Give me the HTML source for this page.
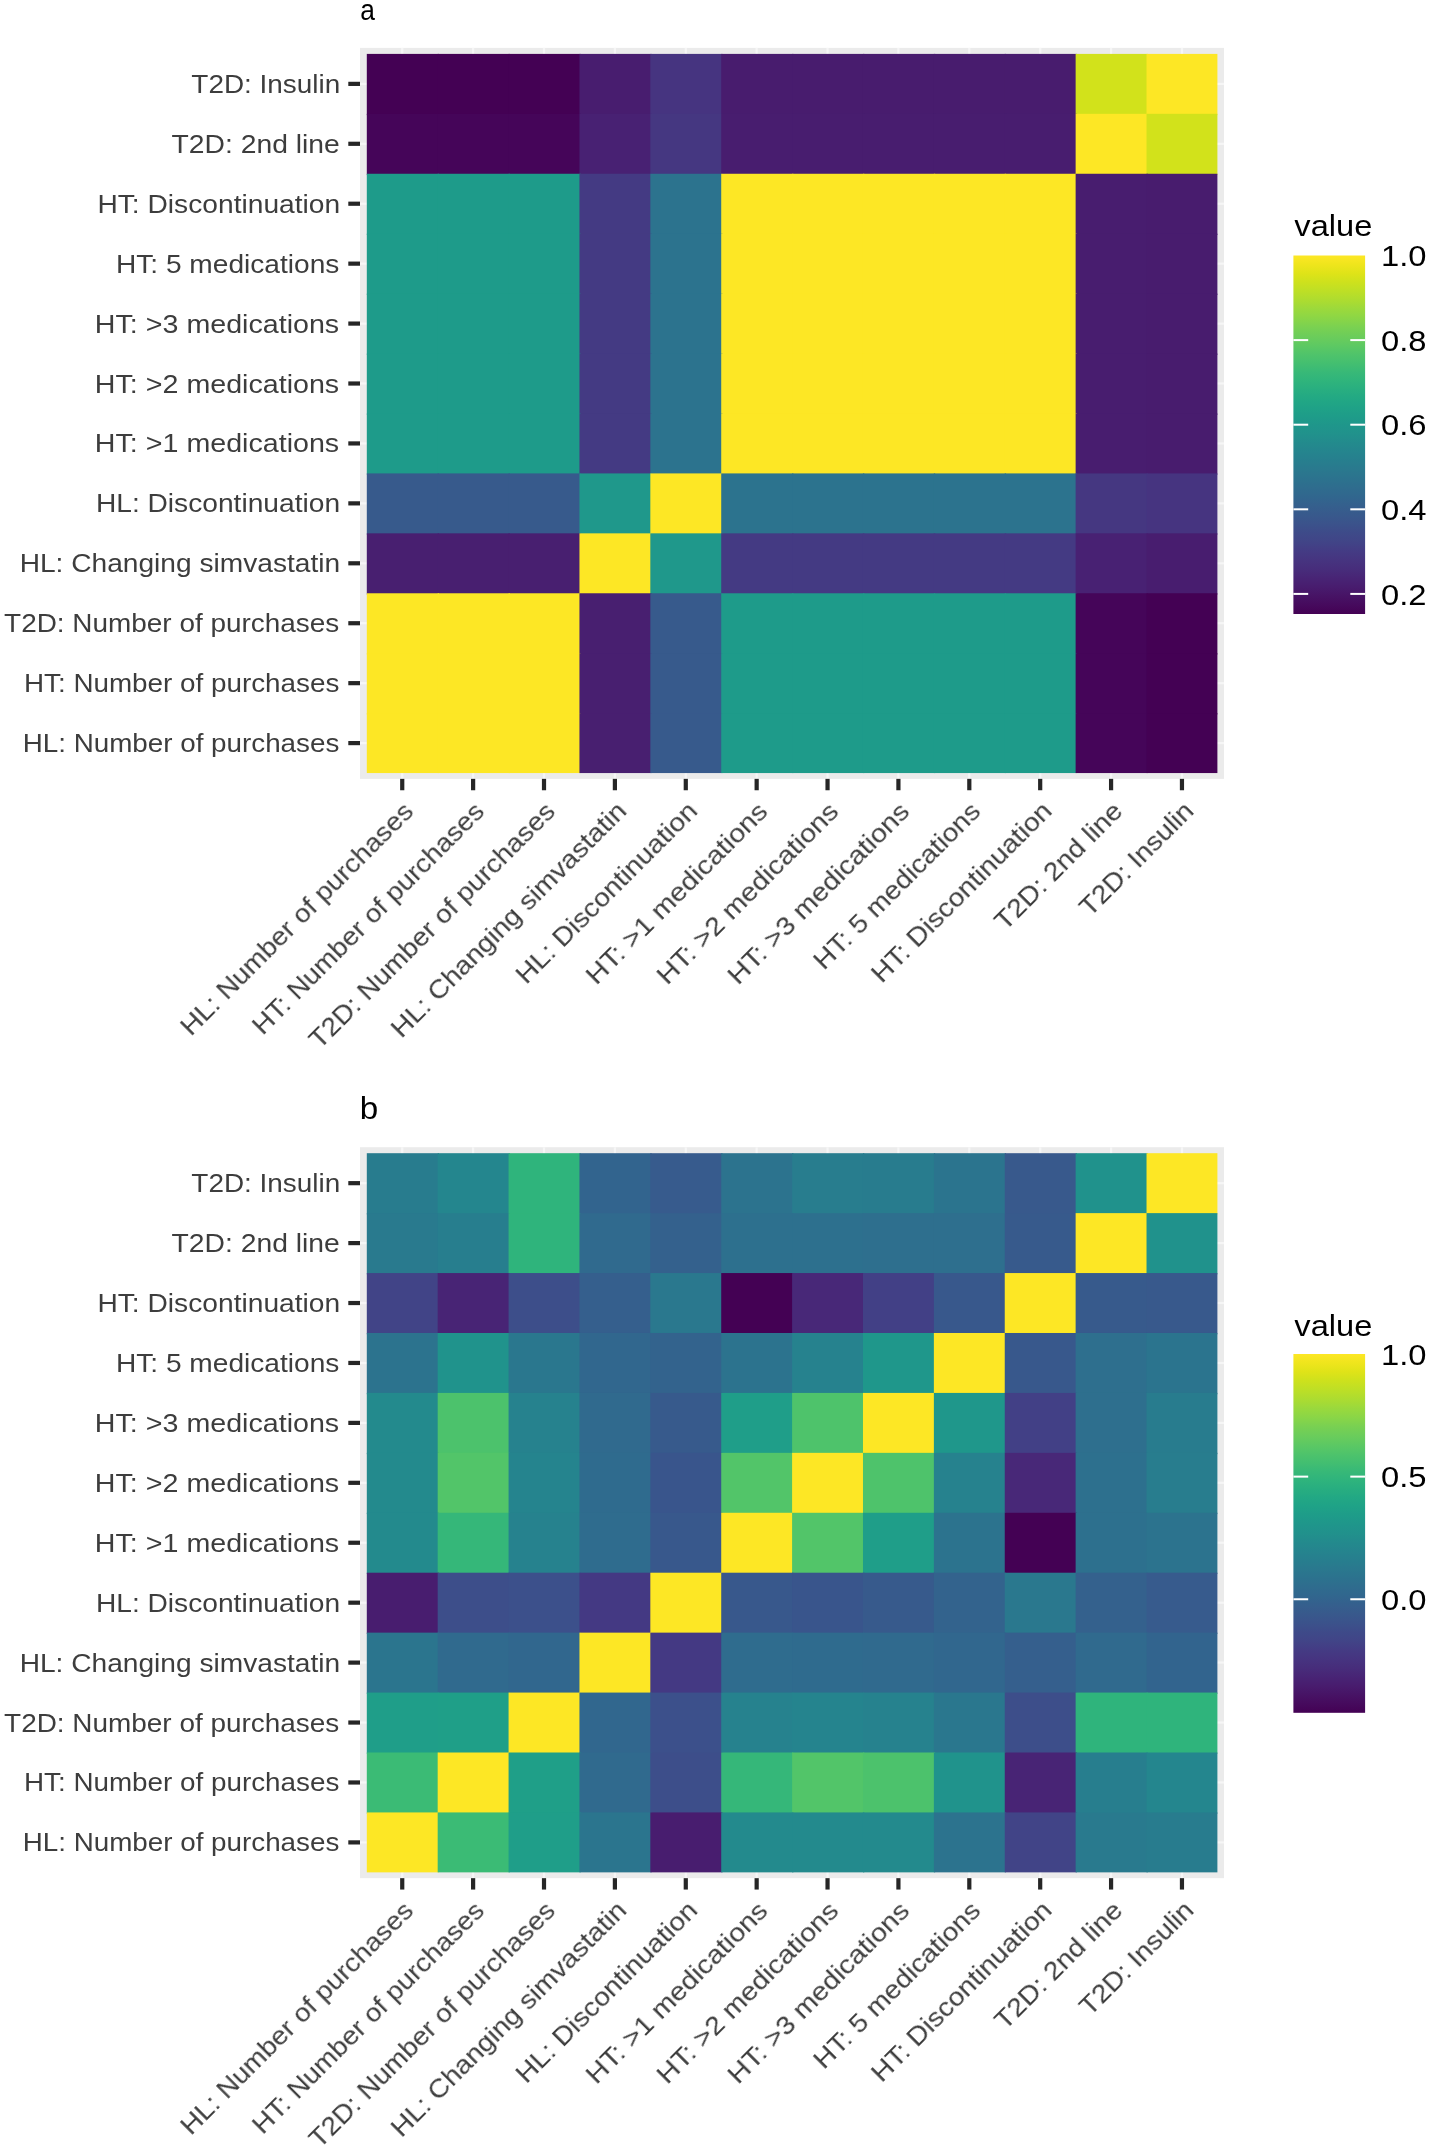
<!DOCTYPE html>
<html><head><meta charset="utf-8"><title>heatmaps</title><style>html,body{margin:0;padding:0;background:#fff;}svg text{font-family:"Liberation Sans",sans-serif;}text{will-change:transform;}</style></head><body>
<svg width="1433" height="2145" viewBox="0 0 1433 2145" style="display:block" font-family="Liberation Sans, sans-serif">
<rect x="0" y="0" width="1433" height="2145" fill="#ffffff"/>
<rect x="360.0" y="47.90" width="864.0" height="730.96" fill="#ebebeb"/>
<rect x="401.14" y="47.90" width="2.2" height="730.96" fill="#f6f6f6"/>
<rect x="360.0" y="82.77" width="864.0" height="2.2" fill="#f6f6f6"/>
<rect x="472.02" y="47.90" width="2.2" height="730.96" fill="#f6f6f6"/>
<rect x="360.0" y="142.69" width="864.0" height="2.2" fill="#f6f6f6"/>
<rect x="542.91" y="47.90" width="2.2" height="730.96" fill="#f6f6f6"/>
<rect x="360.0" y="202.62" width="864.0" height="2.2" fill="#f6f6f6"/>
<rect x="613.79" y="47.90" width="2.2" height="730.96" fill="#f6f6f6"/>
<rect x="360.0" y="262.55" width="864.0" height="2.2" fill="#f6f6f6"/>
<rect x="684.68" y="47.90" width="2.2" height="730.96" fill="#f6f6f6"/>
<rect x="360.0" y="322.48" width="864.0" height="2.2" fill="#f6f6f6"/>
<rect x="755.56" y="47.90" width="2.2" height="730.96" fill="#f6f6f6"/>
<rect x="360.0" y="382.41" width="864.0" height="2.2" fill="#f6f6f6"/>
<rect x="826.44" y="47.90" width="2.2" height="730.96" fill="#f6f6f6"/>
<rect x="360.0" y="442.34" width="864.0" height="2.2" fill="#f6f6f6"/>
<rect x="897.32" y="47.90" width="2.2" height="730.96" fill="#f6f6f6"/>
<rect x="360.0" y="502.27" width="864.0" height="2.2" fill="#f6f6f6"/>
<rect x="968.21" y="47.90" width="2.2" height="730.96" fill="#f6f6f6"/>
<rect x="360.0" y="562.20" width="864.0" height="2.2" fill="#f6f6f6"/>
<rect x="1039.09" y="47.90" width="2.2" height="730.96" fill="#f6f6f6"/>
<rect x="360.0" y="622.13" width="864.0" height="2.2" fill="#f6f6f6"/>
<rect x="1109.98" y="47.90" width="2.2" height="730.96" fill="#f6f6f6"/>
<rect x="360.0" y="682.06" width="864.0" height="2.2" fill="#f6f6f6"/>
<rect x="1180.86" y="47.90" width="2.2" height="730.96" fill="#f6f6f6"/>
<rect x="360.0" y="742.00" width="864.0" height="2.2" fill="#f6f6f6"/>
<rect x="366.80" y="53.90" width="72.18" height="61.23" fill="#440154"/>
<rect x="437.68" y="53.90" width="72.18" height="61.23" fill="#440154"/>
<rect x="508.57" y="53.90" width="72.18" height="61.23" fill="#440154"/>
<rect x="579.45" y="53.90" width="72.18" height="61.23" fill="#481d6f"/>
<rect x="650.33" y="53.90" width="72.18" height="61.23" fill="#463480"/>
<rect x="721.22" y="53.90" width="72.18" height="61.23" fill="#481c6e"/>
<rect x="792.10" y="53.90" width="72.18" height="61.23" fill="#481c6e"/>
<rect x="862.98" y="53.90" width="72.18" height="61.23" fill="#481c6e"/>
<rect x="933.87" y="53.90" width="72.18" height="61.23" fill="#481c6e"/>
<rect x="1004.75" y="53.90" width="72.18" height="61.23" fill="#481c6e"/>
<rect x="1075.63" y="53.90" width="72.18" height="61.23" fill="#d2e21b"/>
<rect x="1146.52" y="53.90" width="70.88" height="61.23" fill="#fde725"/>
<rect x="366.80" y="113.83" width="72.18" height="61.23" fill="#450559"/>
<rect x="437.68" y="113.83" width="72.18" height="61.23" fill="#450559"/>
<rect x="508.57" y="113.83" width="72.18" height="61.23" fill="#450559"/>
<rect x="579.45" y="113.83" width="72.18" height="61.23" fill="#482173"/>
<rect x="650.33" y="113.83" width="72.18" height="61.23" fill="#453781"/>
<rect x="721.22" y="113.83" width="72.18" height="61.23" fill="#481d6f"/>
<rect x="792.10" y="113.83" width="72.18" height="61.23" fill="#481d6f"/>
<rect x="862.98" y="113.83" width="72.18" height="61.23" fill="#481d6f"/>
<rect x="933.87" y="113.83" width="72.18" height="61.23" fill="#481d6f"/>
<rect x="1004.75" y="113.83" width="72.18" height="61.23" fill="#481d6f"/>
<rect x="1075.63" y="113.83" width="72.18" height="61.23" fill="#fde725"/>
<rect x="1146.52" y="113.83" width="70.88" height="61.23" fill="#d2e21b"/>
<rect x="366.80" y="173.76" width="72.18" height="61.23" fill="#1e9b8a"/>
<rect x="437.68" y="173.76" width="72.18" height="61.23" fill="#1e9b8a"/>
<rect x="508.57" y="173.76" width="72.18" height="61.23" fill="#1e9b8a"/>
<rect x="579.45" y="173.76" width="72.18" height="61.23" fill="#443a83"/>
<rect x="650.33" y="173.76" width="72.18" height="61.23" fill="#2c738e"/>
<rect x="721.22" y="173.76" width="72.18" height="61.23" fill="#fde725"/>
<rect x="792.10" y="173.76" width="72.18" height="61.23" fill="#fde725"/>
<rect x="862.98" y="173.76" width="72.18" height="61.23" fill="#fde725"/>
<rect x="933.87" y="173.76" width="72.18" height="61.23" fill="#fde725"/>
<rect x="1004.75" y="173.76" width="72.18" height="61.23" fill="#fde725"/>
<rect x="1075.63" y="173.76" width="72.18" height="61.23" fill="#481d6f"/>
<rect x="1146.52" y="173.76" width="70.88" height="61.23" fill="#481c6e"/>
<rect x="366.80" y="233.69" width="72.18" height="61.23" fill="#1e9b8a"/>
<rect x="437.68" y="233.69" width="72.18" height="61.23" fill="#1e9b8a"/>
<rect x="508.57" y="233.69" width="72.18" height="61.23" fill="#1e9b8a"/>
<rect x="579.45" y="233.69" width="72.18" height="61.23" fill="#443a83"/>
<rect x="650.33" y="233.69" width="72.18" height="61.23" fill="#2c738e"/>
<rect x="721.22" y="233.69" width="72.18" height="61.23" fill="#fde725"/>
<rect x="792.10" y="233.69" width="72.18" height="61.23" fill="#fde725"/>
<rect x="862.98" y="233.69" width="72.18" height="61.23" fill="#fde725"/>
<rect x="933.87" y="233.69" width="72.18" height="61.23" fill="#fde725"/>
<rect x="1004.75" y="233.69" width="72.18" height="61.23" fill="#fde725"/>
<rect x="1075.63" y="233.69" width="72.18" height="61.23" fill="#481d6f"/>
<rect x="1146.52" y="233.69" width="70.88" height="61.23" fill="#481c6e"/>
<rect x="366.80" y="293.62" width="72.18" height="61.23" fill="#1e9b8a"/>
<rect x="437.68" y="293.62" width="72.18" height="61.23" fill="#1e9b8a"/>
<rect x="508.57" y="293.62" width="72.18" height="61.23" fill="#1e9b8a"/>
<rect x="579.45" y="293.62" width="72.18" height="61.23" fill="#443a83"/>
<rect x="650.33" y="293.62" width="72.18" height="61.23" fill="#2c738e"/>
<rect x="721.22" y="293.62" width="72.18" height="61.23" fill="#fde725"/>
<rect x="792.10" y="293.62" width="72.18" height="61.23" fill="#fde725"/>
<rect x="862.98" y="293.62" width="72.18" height="61.23" fill="#fde725"/>
<rect x="933.87" y="293.62" width="72.18" height="61.23" fill="#fde725"/>
<rect x="1004.75" y="293.62" width="72.18" height="61.23" fill="#fde725"/>
<rect x="1075.63" y="293.62" width="72.18" height="61.23" fill="#481d6f"/>
<rect x="1146.52" y="293.62" width="70.88" height="61.23" fill="#481c6e"/>
<rect x="366.80" y="353.55" width="72.18" height="61.23" fill="#1e9b8a"/>
<rect x="437.68" y="353.55" width="72.18" height="61.23" fill="#1e9b8a"/>
<rect x="508.57" y="353.55" width="72.18" height="61.23" fill="#1e9b8a"/>
<rect x="579.45" y="353.55" width="72.18" height="61.23" fill="#443a83"/>
<rect x="650.33" y="353.55" width="72.18" height="61.23" fill="#2c738e"/>
<rect x="721.22" y="353.55" width="72.18" height="61.23" fill="#fde725"/>
<rect x="792.10" y="353.55" width="72.18" height="61.23" fill="#fde725"/>
<rect x="862.98" y="353.55" width="72.18" height="61.23" fill="#fde725"/>
<rect x="933.87" y="353.55" width="72.18" height="61.23" fill="#fde725"/>
<rect x="1004.75" y="353.55" width="72.18" height="61.23" fill="#fde725"/>
<rect x="1075.63" y="353.55" width="72.18" height="61.23" fill="#481d6f"/>
<rect x="1146.52" y="353.55" width="70.88" height="61.23" fill="#481c6e"/>
<rect x="366.80" y="413.48" width="72.18" height="61.23" fill="#1e9b8a"/>
<rect x="437.68" y="413.48" width="72.18" height="61.23" fill="#1e9b8a"/>
<rect x="508.57" y="413.48" width="72.18" height="61.23" fill="#1e9b8a"/>
<rect x="579.45" y="413.48" width="72.18" height="61.23" fill="#443a83"/>
<rect x="650.33" y="413.48" width="72.18" height="61.23" fill="#2c738e"/>
<rect x="721.22" y="413.48" width="72.18" height="61.23" fill="#fde725"/>
<rect x="792.10" y="413.48" width="72.18" height="61.23" fill="#fde725"/>
<rect x="862.98" y="413.48" width="72.18" height="61.23" fill="#fde725"/>
<rect x="933.87" y="413.48" width="72.18" height="61.23" fill="#fde725"/>
<rect x="1004.75" y="413.48" width="72.18" height="61.23" fill="#fde725"/>
<rect x="1075.63" y="413.48" width="72.18" height="61.23" fill="#481d6f"/>
<rect x="1146.52" y="413.48" width="70.88" height="61.23" fill="#481c6e"/>
<rect x="366.80" y="473.41" width="72.18" height="61.23" fill="#375a8c"/>
<rect x="437.68" y="473.41" width="72.18" height="61.23" fill="#375a8c"/>
<rect x="508.57" y="473.41" width="72.18" height="61.23" fill="#375a8c"/>
<rect x="579.45" y="473.41" width="72.18" height="61.23" fill="#1f988b"/>
<rect x="650.33" y="473.41" width="72.18" height="61.23" fill="#fde725"/>
<rect x="721.22" y="473.41" width="72.18" height="61.23" fill="#2c738e"/>
<rect x="792.10" y="473.41" width="72.18" height="61.23" fill="#2c738e"/>
<rect x="862.98" y="473.41" width="72.18" height="61.23" fill="#2c738e"/>
<rect x="933.87" y="473.41" width="72.18" height="61.23" fill="#2c738e"/>
<rect x="1004.75" y="473.41" width="72.18" height="61.23" fill="#2c738e"/>
<rect x="1075.63" y="473.41" width="72.18" height="61.23" fill="#453781"/>
<rect x="1146.52" y="473.41" width="70.88" height="61.23" fill="#463480"/>
<rect x="366.80" y="533.34" width="72.18" height="61.23" fill="#481f70"/>
<rect x="437.68" y="533.34" width="72.18" height="61.23" fill="#481f70"/>
<rect x="508.57" y="533.34" width="72.18" height="61.23" fill="#481f70"/>
<rect x="579.45" y="533.34" width="72.18" height="61.23" fill="#fde725"/>
<rect x="650.33" y="533.34" width="72.18" height="61.23" fill="#1f988b"/>
<rect x="721.22" y="533.34" width="72.18" height="61.23" fill="#443a83"/>
<rect x="792.10" y="533.34" width="72.18" height="61.23" fill="#443a83"/>
<rect x="862.98" y="533.34" width="72.18" height="61.23" fill="#443a83"/>
<rect x="933.87" y="533.34" width="72.18" height="61.23" fill="#443a83"/>
<rect x="1004.75" y="533.34" width="72.18" height="61.23" fill="#443a83"/>
<rect x="1075.63" y="533.34" width="72.18" height="61.23" fill="#482173"/>
<rect x="1146.52" y="533.34" width="70.88" height="61.23" fill="#481d6f"/>
<rect x="366.80" y="593.27" width="72.18" height="61.23" fill="#fde725"/>
<rect x="437.68" y="593.27" width="72.18" height="61.23" fill="#fde725"/>
<rect x="508.57" y="593.27" width="72.18" height="61.23" fill="#fde725"/>
<rect x="579.45" y="593.27" width="72.18" height="61.23" fill="#481f70"/>
<rect x="650.33" y="593.27" width="72.18" height="61.23" fill="#375a8c"/>
<rect x="721.22" y="593.27" width="72.18" height="61.23" fill="#1e9b8a"/>
<rect x="792.10" y="593.27" width="72.18" height="61.23" fill="#1e9b8a"/>
<rect x="862.98" y="593.27" width="72.18" height="61.23" fill="#1e9b8a"/>
<rect x="933.87" y="593.27" width="72.18" height="61.23" fill="#1e9b8a"/>
<rect x="1004.75" y="593.27" width="72.18" height="61.23" fill="#1e9b8a"/>
<rect x="1075.63" y="593.27" width="72.18" height="61.23" fill="#450559"/>
<rect x="1146.52" y="593.27" width="70.88" height="61.23" fill="#440154"/>
<rect x="366.80" y="653.20" width="72.18" height="61.23" fill="#fde725"/>
<rect x="437.68" y="653.20" width="72.18" height="61.23" fill="#fde725"/>
<rect x="508.57" y="653.20" width="72.18" height="61.23" fill="#fde725"/>
<rect x="579.45" y="653.20" width="72.18" height="61.23" fill="#481f70"/>
<rect x="650.33" y="653.20" width="72.18" height="61.23" fill="#375a8c"/>
<rect x="721.22" y="653.20" width="72.18" height="61.23" fill="#1e9b8a"/>
<rect x="792.10" y="653.20" width="72.18" height="61.23" fill="#1e9b8a"/>
<rect x="862.98" y="653.20" width="72.18" height="61.23" fill="#1e9b8a"/>
<rect x="933.87" y="653.20" width="72.18" height="61.23" fill="#1e9b8a"/>
<rect x="1004.75" y="653.20" width="72.18" height="61.23" fill="#1e9b8a"/>
<rect x="1075.63" y="653.20" width="72.18" height="61.23" fill="#450559"/>
<rect x="1146.52" y="653.20" width="70.88" height="61.23" fill="#440154"/>
<rect x="366.80" y="713.13" width="72.18" height="59.93" fill="#fde725"/>
<rect x="437.68" y="713.13" width="72.18" height="59.93" fill="#fde725"/>
<rect x="508.57" y="713.13" width="72.18" height="59.93" fill="#fde725"/>
<rect x="579.45" y="713.13" width="72.18" height="59.93" fill="#481f70"/>
<rect x="650.33" y="713.13" width="72.18" height="59.93" fill="#375a8c"/>
<rect x="721.22" y="713.13" width="72.18" height="59.93" fill="#1e9b8a"/>
<rect x="792.10" y="713.13" width="72.18" height="59.93" fill="#1e9b8a"/>
<rect x="862.98" y="713.13" width="72.18" height="59.93" fill="#1e9b8a"/>
<rect x="933.87" y="713.13" width="72.18" height="59.93" fill="#1e9b8a"/>
<rect x="1004.75" y="713.13" width="72.18" height="59.93" fill="#1e9b8a"/>
<rect x="1075.63" y="713.13" width="72.18" height="59.93" fill="#450559"/>
<rect x="1146.52" y="713.13" width="70.88" height="59.93" fill="#440154"/>
<rect x="348.3" y="741.00" width="11.7" height="4.2" fill="#262626"/>
<text transform="translate(22.68,752.10) scale(1.0689,1)" font-size="26.0" fill="#3d3d3d">HL: Number of purchases</text>
<rect x="348.3" y="681.06" width="11.7" height="4.2" fill="#262626"/>
<text transform="translate(23.92,692.16) scale(1.0704,1)" font-size="26.0" fill="#3d3d3d">HT: Number of purchases</text>
<rect x="348.3" y="621.13" width="11.7" height="4.2" fill="#262626"/>
<text transform="translate(4.09,632.24) scale(1.0742,1)" font-size="26.0" fill="#3d3d3d">T2D: Number of purchases</text>
<rect x="348.3" y="561.20" width="11.7" height="4.2" fill="#262626"/>
<text transform="translate(19.65,572.30) scale(1.0821,1)" font-size="26.0" fill="#3d3d3d">HL: Changing simvastatin</text>
<rect x="348.3" y="501.27" width="11.7" height="4.2" fill="#262626"/>
<text transform="translate(95.90,512.38) scale(1.0833,1)" font-size="26.0" fill="#3d3d3d">HL: Discontinuation</text>
<rect x="348.3" y="441.34" width="11.7" height="4.2" fill="#262626"/>
<text transform="translate(94.86,452.44) scale(1.1020,1)" font-size="26.0" fill="#3d3d3d">HT: &gt;1 medications</text>
<rect x="348.3" y="381.41" width="11.7" height="4.2" fill="#262626"/>
<text transform="translate(94.86,392.51) scale(1.1020,1)" font-size="26.0" fill="#3d3d3d">HT: &gt;2 medications</text>
<rect x="348.3" y="321.48" width="11.7" height="4.2" fill="#262626"/>
<text transform="translate(94.86,332.58) scale(1.1020,1)" font-size="26.0" fill="#3d3d3d">HT: &gt;3 medications</text>
<rect x="348.3" y="261.55" width="11.7" height="4.2" fill="#262626"/>
<text transform="translate(115.90,272.65) scale(1.0819,1)" font-size="26.0" fill="#3d3d3d">HT: 5 medications</text>
<rect x="348.3" y="201.62" width="11.7" height="4.2" fill="#262626"/>
<text transform="translate(97.39,212.72) scale(1.0841,1)" font-size="26.0" fill="#3d3d3d">HT: Discontinuation</text>
<rect x="348.3" y="141.69" width="11.7" height="4.2" fill="#262626"/>
<text transform="translate(171.58,152.79) scale(1.0875,1)" font-size="26.0" fill="#3d3d3d">T2D: 2nd line</text>
<rect x="348.3" y="81.77" width="11.7" height="4.2" fill="#262626"/>
<text transform="translate(191.34,92.86) scale(1.0733,1)" font-size="26.0" fill="#3d3d3d">T2D: Insulin</text>
<rect x="400.14" y="778.86" width="4.2" height="11.40" fill="#262626"/>
<text transform="translate(414.24,813.66) rotate(-45) translate(-315.72,0) scale(1.0689,1)" font-size="26.0" fill="#3d3d3d">HL: Number of purchases</text>
<rect x="471.02" y="778.86" width="4.2" height="11.40" fill="#262626"/>
<text transform="translate(485.12,813.66) rotate(-45) translate(-314.48,0) scale(1.0704,1)" font-size="26.0" fill="#3d3d3d">HT: Number of purchases</text>
<rect x="541.91" y="778.86" width="4.2" height="11.40" fill="#262626"/>
<text transform="translate(556.01,813.66) rotate(-45) translate(-334.31,0) scale(1.0742,1)" font-size="26.0" fill="#3d3d3d">T2D: Number of purchases</text>
<rect x="612.79" y="778.86" width="4.2" height="11.40" fill="#262626"/>
<text transform="translate(626.89,813.66) rotate(-45) translate(-318.75,0) scale(1.0821,1)" font-size="26.0" fill="#3d3d3d">HL: Changing simvastatin</text>
<rect x="683.68" y="778.86" width="4.2" height="11.40" fill="#262626"/>
<text transform="translate(697.78,813.66) rotate(-45) translate(-242.50,0) scale(1.0833,1)" font-size="26.0" fill="#3d3d3d">HL: Discontinuation</text>
<rect x="754.56" y="778.86" width="4.2" height="11.40" fill="#262626"/>
<text transform="translate(768.66,813.66) rotate(-45) translate(-243.54,0) scale(1.1020,1)" font-size="26.0" fill="#3d3d3d">HT: &gt;1 medications</text>
<rect x="825.44" y="778.86" width="4.2" height="11.40" fill="#262626"/>
<text transform="translate(839.54,813.66) rotate(-45) translate(-243.54,0) scale(1.1020,1)" font-size="26.0" fill="#3d3d3d">HT: &gt;2 medications</text>
<rect x="896.32" y="778.86" width="4.2" height="11.40" fill="#262626"/>
<text transform="translate(910.42,813.66) rotate(-45) translate(-243.54,0) scale(1.1020,1)" font-size="26.0" fill="#3d3d3d">HT: &gt;3 medications</text>
<rect x="967.21" y="778.86" width="4.2" height="11.40" fill="#262626"/>
<text transform="translate(981.31,813.66) rotate(-45) translate(-222.50,0) scale(1.0819,1)" font-size="26.0" fill="#3d3d3d">HT: 5 medications</text>
<rect x="1038.09" y="778.86" width="4.2" height="11.40" fill="#262626"/>
<text transform="translate(1052.19,813.66) rotate(-45) translate(-241.01,0) scale(1.0841,1)" font-size="26.0" fill="#3d3d3d">HT: Discontinuation</text>
<rect x="1108.98" y="778.86" width="4.2" height="11.40" fill="#262626"/>
<text transform="translate(1123.08,813.66) rotate(-45) translate(-166.82,0) scale(1.0875,1)" font-size="26.0" fill="#3d3d3d">T2D: 2nd line</text>
<rect x="1179.86" y="778.86" width="4.2" height="11.40" fill="#262626"/>
<text transform="translate(1193.96,813.66) rotate(-45) translate(-147.06,0) scale(1.0733,1)" font-size="26.0" fill="#3d3d3d">T2D: Insulin</text>
<text transform="translate(360.15,19.81) scale(0.9056,1)" font-size="29.09" fill="#000000">a</text>
<defs><linearGradient id="g0" x1="0" y1="0" x2="0" y2="1"><stop offset="0.000" stop-color="#fde725"/><stop offset="0.025" stop-color="#efe51c"/><stop offset="0.050" stop-color="#dfe318"/><stop offset="0.075" stop-color="#cde11d"/><stop offset="0.100" stop-color="#bddf26"/><stop offset="0.125" stop-color="#addc30"/><stop offset="0.150" stop-color="#9bd93c"/><stop offset="0.175" stop-color="#8bd646"/><stop offset="0.200" stop-color="#7ad151"/><stop offset="0.225" stop-color="#6ccd5a"/><stop offset="0.250" stop-color="#5ec962"/><stop offset="0.275" stop-color="#50c46a"/><stop offset="0.300" stop-color="#44bf70"/><stop offset="0.325" stop-color="#38b977"/><stop offset="0.350" stop-color="#2fb47c"/><stop offset="0.375" stop-color="#28ae80"/><stop offset="0.400" stop-color="#22a884"/><stop offset="0.425" stop-color="#1fa287"/><stop offset="0.450" stop-color="#1e9c89"/><stop offset="0.475" stop-color="#1f968b"/><stop offset="0.500" stop-color="#21918c"/><stop offset="0.525" stop-color="#238a8d"/><stop offset="0.550" stop-color="#25848e"/><stop offset="0.575" stop-color="#277e8e"/><stop offset="0.600" stop-color="#2a788e"/><stop offset="0.625" stop-color="#2c728e"/><stop offset="0.650" stop-color="#2f6c8e"/><stop offset="0.675" stop-color="#31668e"/><stop offset="0.700" stop-color="#355f8d"/><stop offset="0.725" stop-color="#38598c"/><stop offset="0.750" stop-color="#3b528b"/><stop offset="0.775" stop-color="#3e4a89"/><stop offset="0.800" stop-color="#414487"/><stop offset="0.825" stop-color="#443b84"/><stop offset="0.850" stop-color="#463480"/><stop offset="0.875" stop-color="#472d7b"/><stop offset="0.900" stop-color="#482475"/><stop offset="0.925" stop-color="#481c6e"/><stop offset="0.950" stop-color="#471365"/><stop offset="0.975" stop-color="#460a5d"/><stop offset="1.000" stop-color="#440154"/></linearGradient></defs>
<rect x="1293.4" y="255.50" width="71.70" height="358.50" fill="url(#g0)"/>
<text transform="translate(1294.37,235.61) scale(1.1275,1)" font-size="28.92" fill="#000000">value</text>
<text transform="translate(1380.99,266.16) scale(1.1232,1)" font-size="29.15" fill="#000000">1.0</text>
<rect x="1293.4" y="339.10" width="14.8" height="2.0" fill="#ffffff"/>
<rect x="1350.30" y="339.10" width="14.8" height="2.0" fill="#ffffff"/>
<text transform="translate(1380.99,350.76) scale(1.1232,1)" font-size="29.15" fill="#000000">0.8</text>
<rect x="1293.4" y="423.70" width="14.8" height="2.0" fill="#ffffff"/>
<rect x="1350.30" y="423.70" width="14.8" height="2.0" fill="#ffffff"/>
<text transform="translate(1380.99,435.36) scale(1.1232,1)" font-size="29.15" fill="#000000">0.6</text>
<rect x="1293.4" y="508.31" width="14.8" height="2.0" fill="#ffffff"/>
<rect x="1350.30" y="508.31" width="14.8" height="2.0" fill="#ffffff"/>
<text transform="translate(1380.99,519.96) scale(1.1232,1)" font-size="29.15" fill="#000000">0.4</text>
<rect x="1293.4" y="592.91" width="14.8" height="2.0" fill="#ffffff"/>
<rect x="1350.30" y="592.91" width="14.8" height="2.0" fill="#ffffff"/>
<text transform="translate(1380.99,604.57) scale(1.1232,1)" font-size="29.15" fill="#000000">0.2</text>
<rect x="360.0" y="1147.20" width="864.0" height="730.96" fill="#ebebeb"/>
<rect x="401.14" y="1147.20" width="2.2" height="730.96" fill="#f6f6f6"/>
<rect x="360.0" y="1182.07" width="864.0" height="2.2" fill="#f6f6f6"/>
<rect x="472.02" y="1147.20" width="2.2" height="730.96" fill="#f6f6f6"/>
<rect x="360.0" y="1242.00" width="864.0" height="2.2" fill="#f6f6f6"/>
<rect x="542.91" y="1147.20" width="2.2" height="730.96" fill="#f6f6f6"/>
<rect x="360.0" y="1301.93" width="864.0" height="2.2" fill="#f6f6f6"/>
<rect x="613.79" y="1147.20" width="2.2" height="730.96" fill="#f6f6f6"/>
<rect x="360.0" y="1361.86" width="864.0" height="2.2" fill="#f6f6f6"/>
<rect x="684.68" y="1147.20" width="2.2" height="730.96" fill="#f6f6f6"/>
<rect x="360.0" y="1421.79" width="864.0" height="2.2" fill="#f6f6f6"/>
<rect x="755.56" y="1147.20" width="2.2" height="730.96" fill="#f6f6f6"/>
<rect x="360.0" y="1481.72" width="864.0" height="2.2" fill="#f6f6f6"/>
<rect x="826.44" y="1147.20" width="2.2" height="730.96" fill="#f6f6f6"/>
<rect x="360.0" y="1541.65" width="864.0" height="2.2" fill="#f6f6f6"/>
<rect x="897.32" y="1147.20" width="2.2" height="730.96" fill="#f6f6f6"/>
<rect x="360.0" y="1601.58" width="864.0" height="2.2" fill="#f6f6f6"/>
<rect x="968.21" y="1147.20" width="2.2" height="730.96" fill="#f6f6f6"/>
<rect x="360.0" y="1661.51" width="864.0" height="2.2" fill="#f6f6f6"/>
<rect x="1039.09" y="1147.20" width="2.2" height="730.96" fill="#f6f6f6"/>
<rect x="360.0" y="1721.44" width="864.0" height="2.2" fill="#f6f6f6"/>
<rect x="1109.98" y="1147.20" width="2.2" height="730.96" fill="#f6f6f6"/>
<rect x="360.0" y="1781.37" width="864.0" height="2.2" fill="#f6f6f6"/>
<rect x="1180.86" y="1147.20" width="2.2" height="730.96" fill="#f6f6f6"/>
<rect x="360.0" y="1841.30" width="864.0" height="2.2" fill="#f6f6f6"/>
<rect x="366.80" y="1153.20" width="72.18" height="61.23" fill="#287c8e"/>
<rect x="437.68" y="1153.20" width="72.18" height="61.23" fill="#24868e"/>
<rect x="508.57" y="1153.20" width="72.18" height="61.23" fill="#2fb47c"/>
<rect x="579.45" y="1153.20" width="72.18" height="61.23" fill="#32648e"/>
<rect x="650.33" y="1153.20" width="72.18" height="61.23" fill="#375b8d"/>
<rect x="721.22" y="1153.20" width="72.18" height="61.23" fill="#2c738e"/>
<rect x="792.10" y="1153.20" width="72.18" height="61.23" fill="#287d8e"/>
<rect x="862.98" y="1153.20" width="72.18" height="61.23" fill="#287c8e"/>
<rect x="933.87" y="1153.20" width="72.18" height="61.23" fill="#2b748e"/>
<rect x="1004.75" y="1153.20" width="72.18" height="61.23" fill="#38598c"/>
<rect x="1075.63" y="1153.20" width="72.18" height="61.23" fill="#20928c"/>
<rect x="1146.52" y="1153.20" width="70.88" height="61.23" fill="#fde725"/>
<rect x="366.80" y="1213.13" width="72.18" height="61.23" fill="#297a8e"/>
<rect x="437.68" y="1213.13" width="72.18" height="61.23" fill="#277e8e"/>
<rect x="508.57" y="1213.13" width="72.18" height="61.23" fill="#2fb47c"/>
<rect x="579.45" y="1213.13" width="72.18" height="61.23" fill="#306a8e"/>
<rect x="650.33" y="1213.13" width="72.18" height="61.23" fill="#34618d"/>
<rect x="721.22" y="1213.13" width="72.18" height="61.23" fill="#2d708e"/>
<rect x="792.10" y="1213.13" width="72.18" height="61.23" fill="#2d708e"/>
<rect x="862.98" y="1213.13" width="72.18" height="61.23" fill="#2e6f8e"/>
<rect x="933.87" y="1213.13" width="72.18" height="61.23" fill="#2e6f8e"/>
<rect x="1004.75" y="1213.13" width="72.18" height="61.23" fill="#375a8c"/>
<rect x="1075.63" y="1213.13" width="72.18" height="61.23" fill="#fde725"/>
<rect x="1146.52" y="1213.13" width="70.88" height="61.23" fill="#20928c"/>
<rect x="366.80" y="1273.06" width="72.18" height="61.23" fill="#414487"/>
<rect x="437.68" y="1273.06" width="72.18" height="61.23" fill="#482475"/>
<rect x="508.57" y="1273.06" width="72.18" height="61.23" fill="#3d4e8a"/>
<rect x="579.45" y="1273.06" width="72.18" height="61.23" fill="#355f8d"/>
<rect x="650.33" y="1273.06" width="72.18" height="61.23" fill="#2a788e"/>
<rect x="721.22" y="1273.06" width="72.18" height="61.23" fill="#440154"/>
<rect x="792.10" y="1273.06" width="72.18" height="61.23" fill="#482878"/>
<rect x="862.98" y="1273.06" width="72.18" height="61.23" fill="#424086"/>
<rect x="933.87" y="1273.06" width="72.18" height="61.23" fill="#38588c"/>
<rect x="1004.75" y="1273.06" width="72.18" height="61.23" fill="#fde725"/>
<rect x="1075.63" y="1273.06" width="72.18" height="61.23" fill="#375a8c"/>
<rect x="1146.52" y="1273.06" width="70.88" height="61.23" fill="#38598c"/>
<rect x="366.80" y="1332.99" width="72.18" height="61.23" fill="#2c738e"/>
<rect x="437.68" y="1332.99" width="72.18" height="61.23" fill="#20938c"/>
<rect x="508.57" y="1332.99" width="72.18" height="61.23" fill="#2a778e"/>
<rect x="579.45" y="1332.99" width="72.18" height="61.23" fill="#31678e"/>
<rect x="650.33" y="1332.99" width="72.18" height="61.23" fill="#33638d"/>
<rect x="721.22" y="1332.99" width="72.18" height="61.23" fill="#2c738e"/>
<rect x="792.10" y="1332.99" width="72.18" height="61.23" fill="#26828e"/>
<rect x="862.98" y="1332.99" width="72.18" height="61.23" fill="#1f978b"/>
<rect x="933.87" y="1332.99" width="72.18" height="61.23" fill="#fde725"/>
<rect x="1004.75" y="1332.99" width="72.18" height="61.23" fill="#38588c"/>
<rect x="1075.63" y="1332.99" width="72.18" height="61.23" fill="#2e6f8e"/>
<rect x="1146.52" y="1332.99" width="70.88" height="61.23" fill="#2b748e"/>
<rect x="366.80" y="1392.92" width="72.18" height="61.23" fill="#238a8d"/>
<rect x="437.68" y="1392.92" width="72.18" height="61.23" fill="#4cc26c"/>
<rect x="508.57" y="1392.92" width="72.18" height="61.23" fill="#26828e"/>
<rect x="579.45" y="1392.92" width="72.18" height="61.23" fill="#306a8e"/>
<rect x="650.33" y="1392.92" width="72.18" height="61.23" fill="#375a8c"/>
<rect x="721.22" y="1392.92" width="72.18" height="61.23" fill="#1f9e89"/>
<rect x="792.10" y="1392.92" width="72.18" height="61.23" fill="#4ec36b"/>
<rect x="862.98" y="1392.92" width="72.18" height="61.23" fill="#fde725"/>
<rect x="933.87" y="1392.92" width="72.18" height="61.23" fill="#1f978b"/>
<rect x="1004.75" y="1392.92" width="72.18" height="61.23" fill="#424086"/>
<rect x="1075.63" y="1392.92" width="72.18" height="61.23" fill="#2e6f8e"/>
<rect x="1146.52" y="1392.92" width="70.88" height="61.23" fill="#287c8e"/>
<rect x="366.80" y="1452.85" width="72.18" height="61.23" fill="#238a8d"/>
<rect x="437.68" y="1452.85" width="72.18" height="61.23" fill="#52c569"/>
<rect x="508.57" y="1452.85" width="72.18" height="61.23" fill="#25848e"/>
<rect x="579.45" y="1452.85" width="72.18" height="61.23" fill="#2f6b8e"/>
<rect x="650.33" y="1452.85" width="72.18" height="61.23" fill="#39558c"/>
<rect x="721.22" y="1452.85" width="72.18" height="61.23" fill="#52c569"/>
<rect x="792.10" y="1452.85" width="72.18" height="61.23" fill="#fde725"/>
<rect x="862.98" y="1452.85" width="72.18" height="61.23" fill="#4ec36b"/>
<rect x="933.87" y="1452.85" width="72.18" height="61.23" fill="#26828e"/>
<rect x="1004.75" y="1452.85" width="72.18" height="61.23" fill="#482878"/>
<rect x="1075.63" y="1452.85" width="72.18" height="61.23" fill="#2d708e"/>
<rect x="1146.52" y="1452.85" width="70.88" height="61.23" fill="#287d8e"/>
<rect x="366.80" y="1512.78" width="72.18" height="61.23" fill="#238a8d"/>
<rect x="437.68" y="1512.78" width="72.18" height="61.23" fill="#35b779"/>
<rect x="508.57" y="1512.78" width="72.18" height="61.23" fill="#26828e"/>
<rect x="579.45" y="1512.78" width="72.18" height="61.23" fill="#2f6c8e"/>
<rect x="650.33" y="1512.78" width="72.18" height="61.23" fill="#38588c"/>
<rect x="721.22" y="1512.78" width="72.18" height="61.23" fill="#fde725"/>
<rect x="792.10" y="1512.78" width="72.18" height="61.23" fill="#52c569"/>
<rect x="862.98" y="1512.78" width="72.18" height="61.23" fill="#1f9e89"/>
<rect x="933.87" y="1512.78" width="72.18" height="61.23" fill="#2c738e"/>
<rect x="1004.75" y="1512.78" width="72.18" height="61.23" fill="#440154"/>
<rect x="1075.63" y="1512.78" width="72.18" height="61.23" fill="#2d708e"/>
<rect x="1146.52" y="1512.78" width="70.88" height="61.23" fill="#2c738e"/>
<rect x="366.80" y="1572.71" width="72.18" height="61.23" fill="#481d6f"/>
<rect x="437.68" y="1572.71" width="72.18" height="61.23" fill="#3d4e8a"/>
<rect x="508.57" y="1572.71" width="72.18" height="61.23" fill="#3c508b"/>
<rect x="579.45" y="1572.71" width="72.18" height="61.23" fill="#443983"/>
<rect x="650.33" y="1572.71" width="72.18" height="61.23" fill="#fde725"/>
<rect x="721.22" y="1572.71" width="72.18" height="61.23" fill="#38588c"/>
<rect x="792.10" y="1572.71" width="72.18" height="61.23" fill="#39558c"/>
<rect x="862.98" y="1572.71" width="72.18" height="61.23" fill="#375a8c"/>
<rect x="933.87" y="1572.71" width="72.18" height="61.23" fill="#33638d"/>
<rect x="1004.75" y="1572.71" width="72.18" height="61.23" fill="#2a788e"/>
<rect x="1075.63" y="1572.71" width="72.18" height="61.23" fill="#34618d"/>
<rect x="1146.52" y="1572.71" width="70.88" height="61.23" fill="#375b8d"/>
<rect x="366.80" y="1632.64" width="72.18" height="61.23" fill="#2b758e"/>
<rect x="437.68" y="1632.64" width="72.18" height="61.23" fill="#306a8e"/>
<rect x="508.57" y="1632.64" width="72.18" height="61.23" fill="#31678e"/>
<rect x="579.45" y="1632.64" width="72.18" height="61.23" fill="#fde725"/>
<rect x="650.33" y="1632.64" width="72.18" height="61.23" fill="#443983"/>
<rect x="721.22" y="1632.64" width="72.18" height="61.23" fill="#2f6c8e"/>
<rect x="792.10" y="1632.64" width="72.18" height="61.23" fill="#2f6b8e"/>
<rect x="862.98" y="1632.64" width="72.18" height="61.23" fill="#306a8e"/>
<rect x="933.87" y="1632.64" width="72.18" height="61.23" fill="#31678e"/>
<rect x="1004.75" y="1632.64" width="72.18" height="61.23" fill="#355f8d"/>
<rect x="1075.63" y="1632.64" width="72.18" height="61.23" fill="#306a8e"/>
<rect x="1146.52" y="1632.64" width="70.88" height="61.23" fill="#32648e"/>
<rect x="366.80" y="1692.57" width="72.18" height="61.23" fill="#1f9e89"/>
<rect x="437.68" y="1692.57" width="72.18" height="61.23" fill="#1f9f88"/>
<rect x="508.57" y="1692.57" width="72.18" height="61.23" fill="#fde725"/>
<rect x="579.45" y="1692.57" width="72.18" height="61.23" fill="#31678e"/>
<rect x="650.33" y="1692.57" width="72.18" height="61.23" fill="#3c508b"/>
<rect x="721.22" y="1692.57" width="72.18" height="61.23" fill="#26828e"/>
<rect x="792.10" y="1692.57" width="72.18" height="61.23" fill="#25848e"/>
<rect x="862.98" y="1692.57" width="72.18" height="61.23" fill="#26828e"/>
<rect x="933.87" y="1692.57" width="72.18" height="61.23" fill="#2a778e"/>
<rect x="1004.75" y="1692.57" width="72.18" height="61.23" fill="#3d4e8a"/>
<rect x="1075.63" y="1692.57" width="72.18" height="61.23" fill="#2fb47c"/>
<rect x="1146.52" y="1692.57" width="70.88" height="61.23" fill="#2fb47c"/>
<rect x="366.80" y="1752.50" width="72.18" height="61.23" fill="#3bbb75"/>
<rect x="437.68" y="1752.50" width="72.18" height="61.23" fill="#fde725"/>
<rect x="508.57" y="1752.50" width="72.18" height="61.23" fill="#1f9f88"/>
<rect x="579.45" y="1752.50" width="72.18" height="61.23" fill="#306a8e"/>
<rect x="650.33" y="1752.50" width="72.18" height="61.23" fill="#3d4e8a"/>
<rect x="721.22" y="1752.50" width="72.18" height="61.23" fill="#35b779"/>
<rect x="792.10" y="1752.50" width="72.18" height="61.23" fill="#52c569"/>
<rect x="862.98" y="1752.50" width="72.18" height="61.23" fill="#4cc26c"/>
<rect x="933.87" y="1752.50" width="72.18" height="61.23" fill="#20938c"/>
<rect x="1004.75" y="1752.50" width="72.18" height="61.23" fill="#482475"/>
<rect x="1075.63" y="1752.50" width="72.18" height="61.23" fill="#277e8e"/>
<rect x="1146.52" y="1752.50" width="70.88" height="61.23" fill="#24868e"/>
<rect x="366.80" y="1812.43" width="72.18" height="59.93" fill="#fde725"/>
<rect x="437.68" y="1812.43" width="72.18" height="59.93" fill="#3bbb75"/>
<rect x="508.57" y="1812.43" width="72.18" height="59.93" fill="#1f9e89"/>
<rect x="579.45" y="1812.43" width="72.18" height="59.93" fill="#2b758e"/>
<rect x="650.33" y="1812.43" width="72.18" height="59.93" fill="#481d6f"/>
<rect x="721.22" y="1812.43" width="72.18" height="59.93" fill="#238a8d"/>
<rect x="792.10" y="1812.43" width="72.18" height="59.93" fill="#238a8d"/>
<rect x="862.98" y="1812.43" width="72.18" height="59.93" fill="#238a8d"/>
<rect x="933.87" y="1812.43" width="72.18" height="59.93" fill="#2c738e"/>
<rect x="1004.75" y="1812.43" width="72.18" height="59.93" fill="#414487"/>
<rect x="1075.63" y="1812.43" width="72.18" height="59.93" fill="#297a8e"/>
<rect x="1146.52" y="1812.43" width="70.88" height="59.93" fill="#287c8e"/>
<rect x="348.3" y="1840.30" width="11.7" height="4.2" fill="#262626"/>
<text transform="translate(22.68,1851.39) scale(1.0689,1)" font-size="26.0" fill="#3d3d3d">HL: Number of purchases</text>
<rect x="348.3" y="1780.37" width="11.7" height="4.2" fill="#262626"/>
<text transform="translate(23.92,1791.47) scale(1.0704,1)" font-size="26.0" fill="#3d3d3d">HT: Number of purchases</text>
<rect x="348.3" y="1720.44" width="11.7" height="4.2" fill="#262626"/>
<text transform="translate(4.09,1731.54) scale(1.0742,1)" font-size="26.0" fill="#3d3d3d">T2D: Number of purchases</text>
<rect x="348.3" y="1660.51" width="11.7" height="4.2" fill="#262626"/>
<text transform="translate(19.65,1671.61) scale(1.0821,1)" font-size="26.0" fill="#3d3d3d">HL: Changing simvastatin</text>
<rect x="348.3" y="1600.58" width="11.7" height="4.2" fill="#262626"/>
<text transform="translate(95.90,1611.68) scale(1.0833,1)" font-size="26.0" fill="#3d3d3d">HL: Discontinuation</text>
<rect x="348.3" y="1540.65" width="11.7" height="4.2" fill="#262626"/>
<text transform="translate(94.86,1551.75) scale(1.1020,1)" font-size="26.0" fill="#3d3d3d">HT: &gt;1 medications</text>
<rect x="348.3" y="1480.72" width="11.7" height="4.2" fill="#262626"/>
<text transform="translate(94.86,1491.82) scale(1.1020,1)" font-size="26.0" fill="#3d3d3d">HT: &gt;2 medications</text>
<rect x="348.3" y="1420.79" width="11.7" height="4.2" fill="#262626"/>
<text transform="translate(94.86,1431.88) scale(1.1020,1)" font-size="26.0" fill="#3d3d3d">HT: &gt;3 medications</text>
<rect x="348.3" y="1360.86" width="11.7" height="4.2" fill="#262626"/>
<text transform="translate(115.90,1371.95) scale(1.0819,1)" font-size="26.0" fill="#3d3d3d">HT: 5 medications</text>
<rect x="348.3" y="1300.93" width="11.7" height="4.2" fill="#262626"/>
<text transform="translate(97.39,1312.03) scale(1.0841,1)" font-size="26.0" fill="#3d3d3d">HT: Discontinuation</text>
<rect x="348.3" y="1241.00" width="11.7" height="4.2" fill="#262626"/>
<text transform="translate(171.58,1252.10) scale(1.0875,1)" font-size="26.0" fill="#3d3d3d">T2D: 2nd line</text>
<rect x="348.3" y="1181.07" width="11.7" height="4.2" fill="#262626"/>
<text transform="translate(191.34,1192.16) scale(1.0733,1)" font-size="26.0" fill="#3d3d3d">T2D: Insulin</text>
<rect x="400.14" y="1878.16" width="4.2" height="11.40" fill="#262626"/>
<text transform="translate(414.24,1912.96) rotate(-45) translate(-315.72,0) scale(1.0689,1)" font-size="26.0" fill="#3d3d3d">HL: Number of purchases</text>
<rect x="471.02" y="1878.16" width="4.2" height="11.40" fill="#262626"/>
<text transform="translate(485.12,1912.96) rotate(-45) translate(-314.48,0) scale(1.0704,1)" font-size="26.0" fill="#3d3d3d">HT: Number of purchases</text>
<rect x="541.91" y="1878.16" width="4.2" height="11.40" fill="#262626"/>
<text transform="translate(556.01,1912.96) rotate(-45) translate(-334.31,0) scale(1.0742,1)" font-size="26.0" fill="#3d3d3d">T2D: Number of purchases</text>
<rect x="612.79" y="1878.16" width="4.2" height="11.40" fill="#262626"/>
<text transform="translate(626.89,1912.96) rotate(-45) translate(-318.75,0) scale(1.0821,1)" font-size="26.0" fill="#3d3d3d">HL: Changing simvastatin</text>
<rect x="683.68" y="1878.16" width="4.2" height="11.40" fill="#262626"/>
<text transform="translate(697.78,1912.96) rotate(-45) translate(-242.50,0) scale(1.0833,1)" font-size="26.0" fill="#3d3d3d">HL: Discontinuation</text>
<rect x="754.56" y="1878.16" width="4.2" height="11.40" fill="#262626"/>
<text transform="translate(768.66,1912.96) rotate(-45) translate(-243.54,0) scale(1.1020,1)" font-size="26.0" fill="#3d3d3d">HT: &gt;1 medications</text>
<rect x="825.44" y="1878.16" width="4.2" height="11.40" fill="#262626"/>
<text transform="translate(839.54,1912.96) rotate(-45) translate(-243.54,0) scale(1.1020,1)" font-size="26.0" fill="#3d3d3d">HT: &gt;2 medications</text>
<rect x="896.32" y="1878.16" width="4.2" height="11.40" fill="#262626"/>
<text transform="translate(910.42,1912.96) rotate(-45) translate(-243.54,0) scale(1.1020,1)" font-size="26.0" fill="#3d3d3d">HT: &gt;3 medications</text>
<rect x="967.21" y="1878.16" width="4.2" height="11.40" fill="#262626"/>
<text transform="translate(981.31,1912.96) rotate(-45) translate(-222.50,0) scale(1.0819,1)" font-size="26.0" fill="#3d3d3d">HT: 5 medications</text>
<rect x="1038.09" y="1878.16" width="4.2" height="11.40" fill="#262626"/>
<text transform="translate(1052.19,1912.96) rotate(-45) translate(-241.01,0) scale(1.0841,1)" font-size="26.0" fill="#3d3d3d">HT: Discontinuation</text>
<rect x="1108.98" y="1878.16" width="4.2" height="11.40" fill="#262626"/>
<text transform="translate(1123.08,1912.96) rotate(-45) translate(-166.82,0) scale(1.0875,1)" font-size="26.0" fill="#3d3d3d">T2D: 2nd line</text>
<rect x="1179.86" y="1878.16" width="4.2" height="11.40" fill="#262626"/>
<text transform="translate(1193.96,1912.96) rotate(-45) translate(-147.06,0) scale(1.0733,1)" font-size="26.0" fill="#3d3d3d">T2D: Insulin</text>
<text transform="translate(359.68,1118.80) scale(1.0671,1)" font-size="31.10" fill="#000000">b</text>
<defs><linearGradient id="g1" x1="0" y1="0" x2="0" y2="1"><stop offset="0.000" stop-color="#fde725"/><stop offset="0.025" stop-color="#efe51c"/><stop offset="0.050" stop-color="#dfe318"/><stop offset="0.075" stop-color="#cde11d"/><stop offset="0.100" stop-color="#bddf26"/><stop offset="0.125" stop-color="#addc30"/><stop offset="0.150" stop-color="#9bd93c"/><stop offset="0.175" stop-color="#8bd646"/><stop offset="0.200" stop-color="#7ad151"/><stop offset="0.225" stop-color="#6ccd5a"/><stop offset="0.250" stop-color="#5ec962"/><stop offset="0.275" stop-color="#50c46a"/><stop offset="0.300" stop-color="#44bf70"/><stop offset="0.325" stop-color="#38b977"/><stop offset="0.350" stop-color="#2fb47c"/><stop offset="0.375" stop-color="#28ae80"/><stop offset="0.400" stop-color="#22a884"/><stop offset="0.425" stop-color="#1fa287"/><stop offset="0.450" stop-color="#1e9c89"/><stop offset="0.475" stop-color="#1f968b"/><stop offset="0.500" stop-color="#21918c"/><stop offset="0.525" stop-color="#238a8d"/><stop offset="0.550" stop-color="#25848e"/><stop offset="0.575" stop-color="#277e8e"/><stop offset="0.600" stop-color="#2a788e"/><stop offset="0.625" stop-color="#2c728e"/><stop offset="0.650" stop-color="#2f6c8e"/><stop offset="0.675" stop-color="#31668e"/><stop offset="0.700" stop-color="#355f8d"/><stop offset="0.725" stop-color="#38598c"/><stop offset="0.750" stop-color="#3b528b"/><stop offset="0.775" stop-color="#3e4a89"/><stop offset="0.800" stop-color="#414487"/><stop offset="0.825" stop-color="#443b84"/><stop offset="0.850" stop-color="#463480"/><stop offset="0.875" stop-color="#472d7b"/><stop offset="0.900" stop-color="#482475"/><stop offset="0.925" stop-color="#481c6e"/><stop offset="0.950" stop-color="#471365"/><stop offset="0.975" stop-color="#460a5d"/><stop offset="1.000" stop-color="#440154"/></linearGradient></defs>
<rect x="1293.4" y="1354.00" width="71.70" height="358.80" fill="url(#g1)"/>
<text transform="translate(1294.37,1335.61) scale(1.1275,1)" font-size="28.92" fill="#000000">value</text>
<text transform="translate(1380.99,1364.66) scale(1.1232,1)" font-size="29.15" fill="#000000">1.0</text>
<rect x="1293.4" y="1475.62" width="14.8" height="2.0" fill="#ffffff"/>
<rect x="1350.30" y="1475.62" width="14.8" height="2.0" fill="#ffffff"/>
<text transform="translate(1380.99,1487.28) scale(1.1232,1)" font-size="29.15" fill="#000000">0.5</text>
<rect x="1293.4" y="1598.25" width="14.8" height="2.0" fill="#ffffff"/>
<rect x="1350.30" y="1598.25" width="14.8" height="2.0" fill="#ffffff"/>
<text transform="translate(1380.99,1609.91) scale(1.1232,1)" font-size="29.15" fill="#000000">0.0</text>
</svg>
</body></html>
